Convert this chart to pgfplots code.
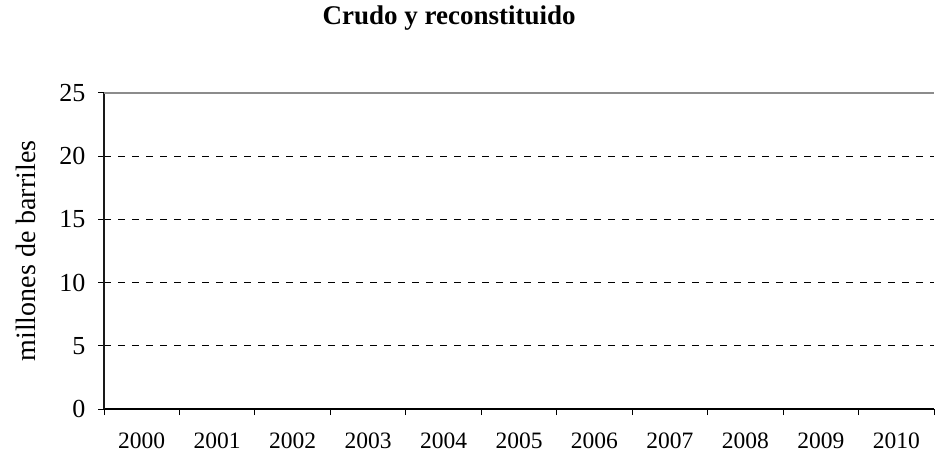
\documentclass[border=0pt]{standalone}
\usepackage{pgfplots}
\pgfplotsset{compat=1.18}
\usepackage{fontspec}
\setmainfont{Liberation Serif}
\begin{document}
\begin{tikzpicture}
\useasboundingbox (0,0) rectangle (935bp,459bp);
\begin{axis}[
  at={(104bp,50bp)}, anchor=south west,
  scale only axis, width=830bp, height=316bp,
  xmin=-0.5, xmax=10.5, ymin=0, ymax=25,
  axis x line=bottom, axis y line=left,
  axis line style={-},
  x axis line style={black, line width=1.3bp},
  y axis line style={black!90, line width=2.4bp},
  xtick={-0.5,0.5,...,10.5},
  xticklabels={2000,2001,2002,2003,2004,2005,2006,2007,2008,2009,2010},
  x tick label as interval,
  ytick={0,5,10,15,20},
  extra y ticks={25},
  extra y tick style={ymajorgrids=true, major grid style={solid, black!45, line width=2bp}},
  ymajorgrids=true,
  major grid style={black, line width=0.8bp, dash pattern=on 7bp off 7bp},
  tick align=outside,
  major tick length=6bp,
  tick style={black, line width=1bp},
  /pgf/number format/assume math mode=true,
  xticklabel style={font=\fontsize{23.5bp}{27bp}\selectfont, anchor=base, yshift=-33bp},
  yticklabel style={font=\fontsize{26bp}{30bp}\selectfont, xshift=-9bp},
  ylabel={millones de barriles},
  ylabel style={font=\fontsize{28bp}{32bp}\selectfont, at={(axis description cs:0,0.5)}, anchor=center, yshift=78bp},
  title={\textbf{Crudo y reconstituido}},
  title style={font=\fontsize{27bp}{32bp}\selectfont, at={(axis description cs:0.4157,1)}, anchor=base, yshift=63bp},
  clip=false,
]
\end{axis}
\end{tikzpicture}
\end{document}
